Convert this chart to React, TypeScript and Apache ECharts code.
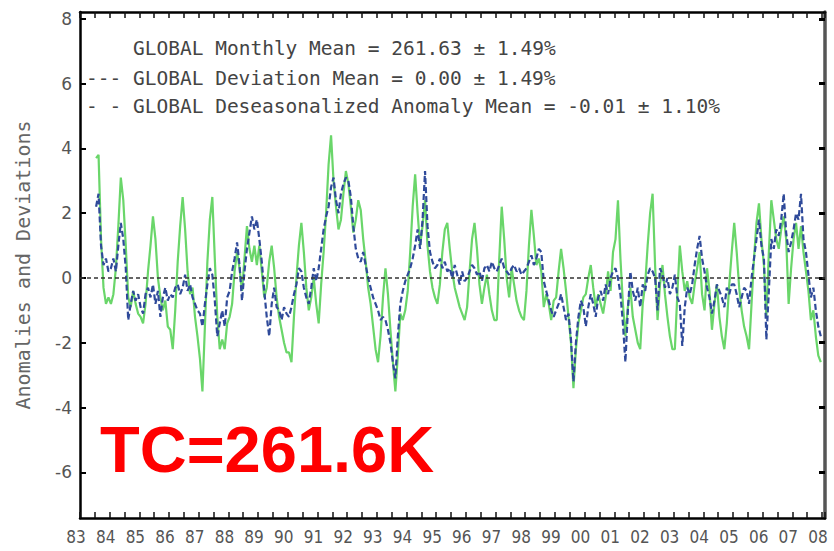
import React, { useEffect, useRef } from "react";
import * as echarts from "echarts";

// ---- data (monthly, starting July 1983) ----
const startYear = 1983;
const startMonth = 7;

const deviation = [
  3.7, 3.8, 1.2, -0.3, -0.8, -0.6,
  -0.8, -0.5, 0.3, 1.6, 3.1, 2.4, 1.0, -0.6, -0.9, -0.4, -0.8, -1.1,
  -1.2, -1.4, -0.8, 0.2, 1.0, 1.9, 1.2, 0.0, -0.6, -1.0, -0.7, -1.5,
  -1.6, -2.2, -1.0, 0.5, 1.6, 2.5, 1.5, 0.2, -0.5, -0.3, -1.2, -1.8,
  -2.5, -3.5, -1.5, 0.5, 1.8, 2.5, 0.6, -1.2, -2.2, -1.9, -2.2, -1.4,
  -1.2, -0.8, 0.2, 0.8, 0.3, -0.4, 0.6, 1.6, 0.9, 0.5, 1.0, 0.4,
  1.0, 0.2, -0.6, -0.3, 0.5, 1.0, 0.3, -0.6, -1.2, -1.6, -2.0, -2.3,
  -2.3, -2.6, -1.2, 0.0, 1.0, 1.7, 0.8, -0.3, -1.0, -0.6, 0.0, -0.8,
  -1.4, -0.2, 0.8, 2.0, 3.5, 4.4, 3.0, 2.2, 1.5, 1.8, 2.6, 3.3,
  2.9, 2.2, 1.4, 1.8, 2.4, 2.1, 1.2, 0.5, -0.3, -0.8, -1.5, -2.2,
  -2.6, -1.8, -0.6, 0.3, -0.5, -1.6, -2.6, -3.5, -2.4, -1.1, -1.3, -1.0,
  -0.4, 0.8, 2.2, 3.2, 2.0, 1.0, 1.6, 2.4, 1.0, 0.2, -0.3, -0.6,
  -0.8, -0.2, 0.8, 1.5, 1.7, 0.9, 0.2, -0.3, -0.6, -0.9, -1.1, -1.3,
  -0.9, 0.2, 1.2, 1.7, 0.9, -0.2, -0.8, -0.3, 0.1, -0.5, -1.0, -1.3,
  -1.3, 0.6, 2.2, 1.2, 0.0, -0.6, 0.3, -0.2, -0.7, -1.0, -1.2, -1.3,
  -0.4, 1.0, 2.1, 1.3, 0.4, 0.6, 0.2, -0.9, -0.5, -0.8, -1.3, -0.7,
  -0.6, 0.2, 0.9, 0.3, -0.4, -1.2, -2.0, -3.4, -2.2, -1.4, -1.0, -0.6,
  -0.5, 0.0, 0.4, -0.3, -0.9, -0.5, -0.8, -1.1, -0.6, 0.2, -0.4, 0.8,
  1.2, 2.4, 0.6, -0.8, -1.8, -0.9, -0.3, -1.2, -1.6, -2.0, -2.2, -0.8,
  -0.2, 1.0, 2.0, 2.6, 0.4, -1.3, -0.2, 0.4, -0.5, -1.2, -1.8, -2.2,
  -2.2, -0.5, 1.0, 0.2, -0.4, -0.1, -0.6, -0.8, -0.2, 0.3, 0.8, -0.5,
  -1.0, 0.3, -0.4, -1.6, -0.8, -0.2, -1.2, -1.8, -2.2, -1.4, -0.2, 0.8,
  1.7, 0.8, -0.3, -1.0, -1.5, -1.8, -2.2, -0.8, 0.6, 1.7, 2.3, 1.2,
  0.4, -1.2, 0.8, 2.4, 1.8, 1.2, 0.9, 1.5, 1.9, 1.2, -0.8, 0.3,
  1.2, 1.7, 0.9, 1.6, 0.8, 0.2, -0.4, -1.3, -1.0, -1.8, -2.4, -2.6,
];

const anomaly = [
  2.2, 2.6, 1.0, 0.4, 0.6, 0.2,
  0.3, 0.6, 0.2, 1.0, 1.7, 1.2, 0.3, -1.3, -0.8, -0.4, -0.7, -0.5,
  -0.9, -1.1, -0.5, -0.3, -0.6, -0.2, -0.8, -0.4, -1.2, -0.6, -0.3, -0.7,
  -0.5, -0.6, -0.3, -0.2, -0.5, -0.3, 0.1, -0.4, -0.2, -0.6, -0.8, -1.0,
  -1.1, -1.5, -0.8, -0.2, 0.3, 0.1, -0.7, -1.8, -1.4, -1.0, -1.5, -0.6,
  -0.4, 0.2, 0.6, 1.1, 0.4, -0.7, 0.2, 0.9, 1.4, 1.9, 1.5, 1.8,
  1.2, 0.5, -0.4, -1.2, -1.8, -0.8, -0.3, -0.9, -1.0, -1.3, -0.9, -1.1,
  -1.2, -0.9, -0.5, -0.2, 0.3, 0.2, -0.3, -0.6, -0.8, -0.3, 0.3, -0.1,
  0.3, 0.9, 1.5, 1.9, 2.2, 2.8, 3.1, 2.4, 2.0, 2.6, 2.9, 3.1,
  3.0, 2.5, 1.6, 0.9, 0.6, 0.5, 0.8, 0.4, 0.0, -0.3, -0.6, -0.8,
  -1.0, -1.3, -1.2, -1.3, -1.6, -2.0, -2.6, -3.1, -1.8, -0.8, -0.4, -0.1,
  0.1, 0.3, 0.6, 1.0, 1.5, 0.9, 1.8, 3.3, 1.6, 0.8, 0.5, 0.3,
  0.4, 0.6, 0.3, 0.5, 0.2, 0.3, 0.0, 0.4, 0.1, -0.2, 0.2, -0.1,
  0.0, 0.2, 0.4, 0.3, 0.1, 0.2, -0.1, 0.3, 0.4, 0.2, 0.5, 0.3,
  0.2, 0.4, 0.6, 0.3, 0.2, 0.1, 0.3, 0.4, 0.2, 0.3, 0.1, 0.2,
  0.3, 0.5, 0.7, 0.4, 0.6, 0.9, 0.8, -0.1, -0.4, -0.7, -1.0, -1.2,
  -1.0, -0.8, -0.5, -0.9, -1.3, -1.1, -1.9, -3.2, -2.0, -1.2, -0.7, -0.9,
  -1.5, -0.9, -0.5, -0.8, -1.2, -0.6, -0.4, -0.7, -0.2, -0.5, 0.0, 0.2,
  0.3, 0.0, -0.5, -1.4, -2.6, -1.0, 0.2, -0.4, -0.7, -0.3, -0.9, -0.2,
  -0.4, 0.1, 0.3, 0.2, 0.0, -1.0, 0.3, 0.1, -0.3, 0.0, -0.5, -0.3,
  0.1, -0.6, -0.8, -2.1, -0.9, -0.3, -0.5, -0.2, 0.4, 0.9, 1.3, 0.6,
  0.2, -0.3, -0.6, -1.1, -0.7, -0.2, -0.4, -0.6, -0.9, -0.3, -0.5, -0.2,
  -0.2, -0.5, -0.9, -0.6, -0.3, -0.4, -0.8, 0.0, 0.6, 1.2, 1.8, 1.0,
  0.6, -1.9, -0.4, 1.2, 0.9, 1.5, 1.3, 1.8, 2.6, 1.4, 0.8, 1.1,
  1.5, 2.0, 1.8, 2.6, 1.2, 0.8, 0.1, -0.6, -0.3, -1.0, -1.5, -1.8,
];

const yTickValues = [-6, -4, -2, 0, 2, 4, 6, 8];
const xMin = 1983;
const xMax = 2008.1;
const yMin = -7.41;
const yMax = 8.21;

const legendLines = [
  "GLOBAL Monthly Mean = 261.63 ± 1.49%",
  "--- GLOBAL Deviation Mean = 0.00 ± 1.49%",
  "- - GLOBAL Deseasonalized Anomaly Mean = -0.01 ± 1.10%",
];
const annotation = "TC=261.6K";
const yAxisTitle = "Anomalies and Deviations";

function monthTime(i: number): number {
  const m = startMonth - 1 + i;
  return startYear + (m + 0.5) / 12;
}

export default function App() {
  const ref = useRef<HTMLDivElement>(null);

  useEffect(() => {
    if (!ref.current) return;
    const chart = echarts.init(ref.current, null, { renderer: "svg" });

    const devData = deviation.map((v, i) => [monthTime(i), v]);
    const anoData = anomaly.map((v, i) => [monthTime(i), v]);

    const tickStyle = { color: "#111", width: 1.5 };
    const xBase = {
      type: "value",
      min: xMin,
      max: xMax,
      interval: 1,
      splitLine: { show: false },
      minorSplitLine: { show: false },
      axisTick: { show: true, inside: true, length: 6, lineStyle: tickStyle },
      minorTick: { show: true, splitNumber: 2, length: 6, lineStyle: tickStyle },
    };

    const mono = "'DejaVu Sans Mono', monospace";

    chart.setOption({
      animation: false,
      backgroundColor: "#ffffff",
      grid: { left: 80, right: 9, top: 12, bottom: 33, containLabel: false },
      xAxis: [
        {
          ...xBase,
          position: "bottom",
          axisLine: { show: true, onZero: false, lineStyle: { color: "#000", width: 2.5 } },
          axisLabel: {
            show: true,
            margin: 10,
            color: "#555",
            fontSize: 17,
            fontFamily: "'DejaVu Sans Condensed', 'DejaVu Sans', sans-serif",
            padding: [0, 8, 0, 0],
            formatter: (v: number) => String(Math.round(v) % 100).padStart(2, "0"),
          },
        },
        {
          ...xBase,
          position: "top",
          axisLine: { show: true, onZero: false, lineStyle: { color: "#000", width: 2.5 } },
          axisLabel: { show: false },
        },
      ],
      yAxis: [
        {
          type: "value",
          min: yMin,
          max: yMax,
          position: "left",
          splitLine: { show: false },
          axisLine: { show: true, onZero: false, lineStyle: { color: "#000", width: 2.5 } },
          axisTick: {
            show: true,
            inside: true,
            length: 6,
            customValues: yTickValues,
            lineStyle: { color: "#000", width: 2 },
          },
          axisLabel: {
            show: true,
            customValues: yTickValues,
            margin: 8,
            color: "#555",
            fontSize: 17,
            fontFamily: "'DejaVu Sans', sans-serif",
          },
          name: yAxisTitle,
          nameLocation: "middle",
          nameRotate: 90,
          nameGap: 47,
          nameTextStyle: { color: "#666", fontSize: 20, fontFamily: mono },
        },
        {
          type: "value",
          min: yMin,
          max: yMax,
          position: "right",
          splitLine: { show: false },
          axisLine: { show: true, onZero: false, lineStyle: { color: "#555", width: 3.5 } },
          axisTick: {
            show: true,
            inside: true,
            length: 6,
            customValues: yTickValues,
            lineStyle: { color: "#000", width: 3 },
          },
          axisLabel: { show: false },
        },
      ],
      series: [
        {
          name: "GLOBAL Deviation",
          type: "line",
          data: devData,
          showSymbol: false,
          symbol: "none",
          lineStyle: { color: "#6ad66a", width: 2.2 },
          z: 2,
          markLine: {
            silent: true,
            symbol: ["none", "none"],
            label: { show: false },
            lineStyle: { color: "#333", type: [4, 3], width: 1.6 },
            data: [{ yAxis: 0 }],
          },
        },
        {
          name: "GLOBAL Deseasonalized Anomaly",
          type: "line",
          data: anoData,
          showSymbol: false,
          symbol: "none",
          lineStyle: { color: "#2f4a9a", width: 2.2, type: [6, 3] },
          z: 3,
        },
      ],
      graphic: [
        {
          type: "text",
          x: 133,
          y: 48,
          style: { text: legendLines[0], fontSize: 19.5, fontFamily: mono, fill: "#444", verticalAlign: "middle" },
        },
        {
          type: "text",
          x: 86,
          y: 78,
          style: { text: legendLines[1], fontSize: 19.5, fontFamily: mono, fill: "#444", verticalAlign: "middle" },
        },
        {
          type: "text",
          x: 86,
          y: 106,
          style: { text: legendLines[2], fontSize: 19.5, fontFamily: mono, fill: "#444", verticalAlign: "middle" },
        },
        {
          type: "text",
          x: 100,
          y: 449,
          z: 100,
          style: {
            text: annotation,
            fontSize: 65,
            fontWeight: "bold",
            fontFamily: "'Liberation Sans', Arial, sans-serif",
            fill: "#ff0000",
            verticalAlign: "middle",
          },
        },
      ],
    });

    return () => chart.dispose();
  }, []);

  return (
    <div
      ref={ref}
      style={{ position: "fixed", left: 0, top: 0, width: 834, height: 551, background: "#fff" }}
    />
  );
}
